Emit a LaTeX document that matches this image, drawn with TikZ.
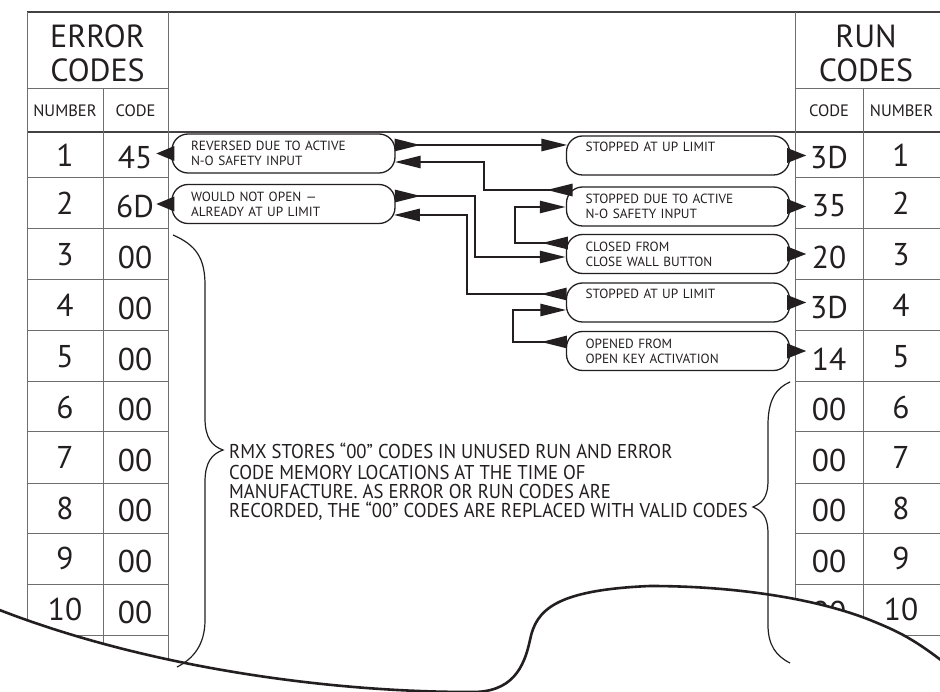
\documentclass[tikz,border=0pt]{standalone}
\usepackage{fontspec}
\setmainfont{PT Sans}
\newfontfamily\notefont[FakeStretch=0.935]{PT Sans}
\usetikzlibrary{arrows.meta,calc}
\definecolor{ink}{HTML}{231F20}
\definecolor{gridc}{HTML}{6D6E70}
\begin{document}
\begin{tikzpicture}[x=1pt,y=-1pt,
  pill/.style={draw=ink, line width=1.3pt, rounded corners=16pt, minimum width=223pt,
    minimum height=39pt, text width=185pt, inner xsep=19pt, inner ysep=0pt, align=left,
    font=\fontsize{13.3}{15}\selectfont, text=ink},
  conn/.style={draw=ink, line width=2.7pt,
    arrows={Triangle[reversed,length=26pt,width=12pt]-Triangle[length=26pt,width=12pt]}},
  gridline/.style={draw=gridc, line width=1pt},
  darkline/.style={draw=ink!85, line width=1.6pt},
  bigtxt/.style={font=\fontsize{32}{34}\selectfont, text=ink, inner sep=0pt},
  subtxt/.style={font=\fontsize{16.5}{18}\selectfont, text=ink, inner sep=0pt},
  cell/.style={font=\fontsize{31.5}{34}\selectfont, text=ink, inner sep=0pt, anchor=center},
  notetxt/.style={font=\notefont\fontsize{20}{20}\selectfont, text=ink, inner sep=0pt, anchor=base west},
  bracel/.style={draw=ink, line width=1.2pt},
  tearline/.style={draw=ink, line width=2.6pt}
]
\fill[white] (0,0) rectangle (940,692);
\useasboundingbox (0,0) rectangle (940,692);
\def\tear{(-3,609) .. controls (140,665) and (320,692) .. (470,692) .. controls (512,693) and (524,668) .. (530,640) .. controls (536,610) and (555,590) .. (650,586) .. controls (740,586) and (820,600) .. (870,620) .. controls (900,632) and (915,640) .. (946,664)}

% ---------- tables (clipped by the torn edge) ----------
\begin{scope}
\clip (-5,-5) -- \tear -- (946,-5) -- cycle;
\draw[darkline] (27,12) -- (945,12);
\draw[darkline] (27,132) -- (945,132);
\draw[gridline] (27,89) -- (168,89);
\draw[gridline] (795,89) -- (945,89);
\foreach \y in {178,229,280,331,382,432,483,533,584,635}{
  \draw[gridline] (27,\y) -- (168,\y);
  \draw[gridline] (795,\y) -- (945,\y);
}
\draw[gridline] (27,12) -- (27,700);
\draw[gridline] (168,12) -- (168,700);
\draw[gridline] (103,89) -- (103,700);
\draw[gridline] (795,12) -- (795,700);
\draw[gridline] (863,89) -- (863,700);

\node[bigtxt, anchor=base] (errA) at (97.5,48) {ERROR};
\node[bigtxt, anchor=base] (errB) at (97.5,82) {CODES};
\node[bigtxt, anchor=base] (runA) at (866,48) {RUN};
\node[bigtxt, anchor=base] (runB) at (866,82) {CODES};
\node[subtxt, anchor=base] (hnumL) at (65,117) {NUMBER};
\node[subtxt, anchor=base] (hcodeL) at (135.5,117) {CODE};
\node[subtxt, anchor=base] (hcodeR) at (829,117) {CODE};
\node[subtxt, anchor=base] (hnumR) at (901.5,117) {NUMBER};

\foreach \n/\y/\cl/\cr in {1/155/45/3D, 2/203.5/6D/35, 3/254.5/00/20, 4/305.5/00/3D, 5/356.5/00/14,
   6/407/00/00, 7/457.5/00/00, 8/508/00/00, 9/558.5/00/00, 10/609.5/00/00}{
  \node[cell] (numL\n) at (65,\y) {\n};
  \node[cell] (codeL\n) at (135,\y+2.5) {\cl};
  \node[cell] (codeR\n) at (829,\y+2.5) {\cr};
  \node[cell] (numR\n) at (901,\y) {\n};
}
\end{scope}

% ---------- event boxes ----------
\node[pill] (L1) at (283.5,153.5) {REVERSED DUE TO ACTIVE\\N-O SAFETY INPUT};
\node[pill] (L2) at (283.5,204) {WOULD NOT OPEN —\\ALREADY AT UP LIMIT};
\node[pill] (R1) at (678,155.5) {STOPPED AT UP LIMIT\\[2pt]\mbox{}};
\node[pill] (R2) at (678,206.5) {STOPPED DUE TO ACTIVE\\N-O SAFETY INPUT};
\node[pill] (R3) at (678,254) {CLOSED FROM\\CLOSE WALL BUTTON};
\node[pill] (R4) at (678,302.5) {STOPPED AT UP LIMIT\\[2pt]\mbox{}};
\node[pill] (R5) at (678,351) {OPENED FROM\\OPEN KEY ACTIVATION};

% pointers from boxes into the code cells
\foreach \b in {L1,L2}{
  \fill[ink] ($(\b.west)+(-15,0)$) -- ($(\b.west)+(3,-7.5)$) -- ($(\b.west)+(3,7.5)$) -- cycle;
}
\foreach \b in {R1,R2,R3,R4,R5}{
  \fill[ink] ($(\b.east)+(16,0)$) -- ($(\b.east)+(-3,-7.5)$) -- ($(\b.east)+(-3,7.5)$) -- cycle;
}

% ---------- connectors (chronological chain) ----------
\draw[conn] ($(L1.east)+(-1,-8.5)$) -- ($(R1.west)+(1.6,-10.5)$);
\draw[conn] ($(R2.west)+(6.7,-16.5)$) -| (484,162) -- ($(L1.east)+(-1,8.5)$);
\draw[conn] ($(L2.east)+(-0.7,-8)$) -| (475,257) -- ($(R3.west)+(0,3)$);
\draw[conn] ($(R3.west)+(1.9,-11)$) -| (515,207) -- ($(R2.west)+(0,0.5)$);
\draw[conn] ($(R4.west)+(0.8,-8.5)$) -| (467,215) -- ($(L2.east)+(-1.9,11)$);
\draw[conn] ($(R5.west)+(1,-9)$) -| (513,310) -- ($(R4.west)+(0.5,7.5)$);

% ---------- braces and note ----------
\draw[bracel] (173,235) .. controls (196,245) and (205,258) .. (205,285) -- (205,418)
   .. controls (205,438) and (212,446) .. (223,450) .. controls (212,454) and (205,462) .. (205,482)
   -- (205,620) .. controls (205,645) and (193,659) .. (177,667);
\draw[bracel] (790,382) .. controls (776,388) and (768,400) .. (768,425) -- (768,480)
   .. controls (768,498) and (762,503) .. (753,507) .. controls (762,511) and (768,516) .. (768,534)
   -- (768,625) .. controls (768,645) and (776,656) .. (790,663);

\node[notetxt] (note1) at (229,459) {RMX STORES “00” CODES IN UNUSED RUN AND ERROR};
\node[notetxt] (note2) at (229,479) {CODE MEMORY LOCATIONS AT THE TIME OF};
\node[notetxt] (note3) at (229,498) {MANUFACTURE. AS ERROR OR RUN CODES ARE};
\node[notetxt] (note4) at (229,517) {RECORDED, THE “00” CODES ARE REPLACED WITH VALID CODES};

% ---------- torn edge ----------
\draw[tearline] \tear;
\end{tikzpicture}
\end{document}
